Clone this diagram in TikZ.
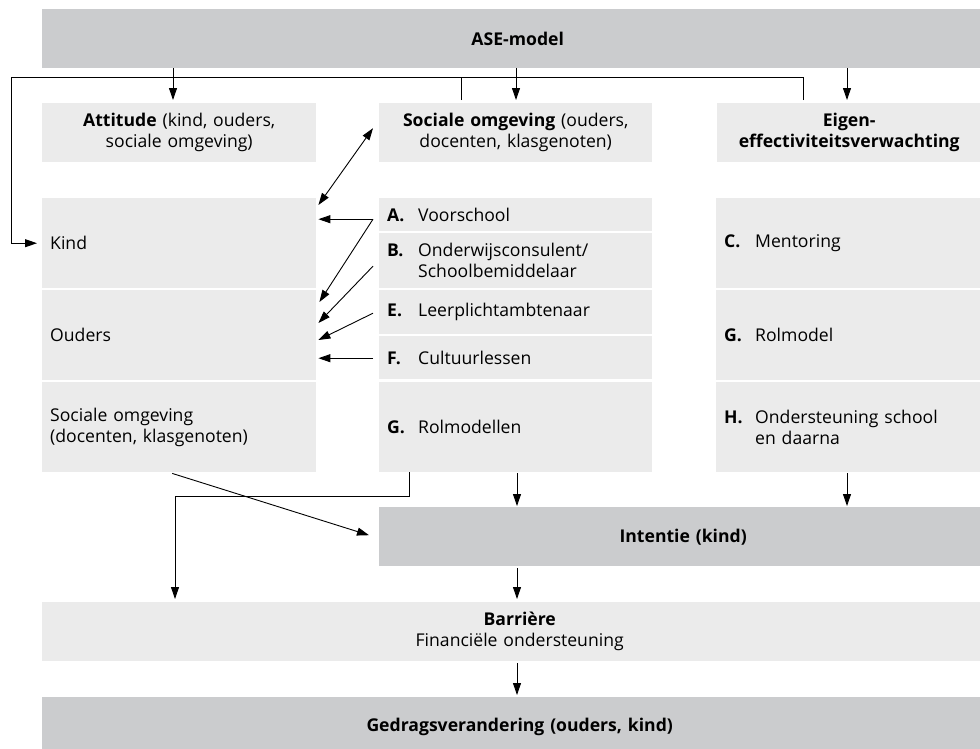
\documentclass[tikz,border=0pt]{standalone}
\usepackage{fontspec}
\setmainfont{Open Sans}
\usetikzlibrary{arrows.meta}
\definecolor{boxdark}{RGB}{203,204,206}
\definecolor{boxlight}{RGB}{235,235,235}
\newcommand\itemlbl[1]{\makebox[31pt][l]{\textbf{#1}}}
\begin{document}
\begin{tikzpicture}[x=1pt,y=-1pt,
  box/.style={inner sep=0pt, anchor=north west, font=\fontsize{17.6}{21}\selectfont},
  dark/.style={box, fill=boxdark},
  light/.style={box, fill=boxlight},
  ctr/.style={align=center},
  lft/.style={align=left, inner xsep=8pt},
  conn/.style={line width=0.9pt, -{Triangle[length=12pt,width=8pt]}},
  both/.style={line width=0.9pt, {Triangle[length=12pt,width=8pt]}-{Triangle[length=12pt,width=8pt]}},
  plain/.style={line width=0.9pt},
]
\useasboundingbox (0,0) rectangle (980,748);
\clip (0,0) rectangle (980,748);

% top row
\node[dark, ctr, minimum width=951pt, minimum height=59pt, text width=951pt] (ase) at (42,9) {\textbf{ASE-model}};
\node[light, ctr, minimum width=274pt, minimum height=59pt, text width=274pt] (att) at (42,103) {\textbf{Attitude} (kind, ouders,\\sociale omgeving)};
\node[light, ctr, minimum width=273pt, minimum height=59pt, text width=273pt] (soc) at (379,103) {\textbf{Sociale omgeving} (ouders,\\docenten, klasgenoten)};
\node[light, ctr, minimum width=264pt, minimum height=59pt, text width=264pt] (eig) at (717,103) {\textbf{Eigen-}\\\textbf{effectiviteitsverwachting}};

% left column
\node[light, lft, minimum width=274pt, minimum height=90pt, text width=258pt] (kind) at (42,198) {Kind};
\node[light, lft, minimum width=274pt, minimum height=90pt, text width=258pt] (ouders) at (42,290) {Ouders};
\node[light, lft, minimum width=274pt, minimum height=90pt, text width=258pt] (somg) at (42,382) {Sociale omgeving\\(docenten, klasgenoten)};

% middle column
\node[light, lft, minimum width=273pt, minimum height=33pt, text width=257pt] (a) at (379,198) {\itemlbl{A.}Voorschool};
\node[light, lft, minimum width=273pt, minimum height=55pt, text width=257pt] (b) at (379,233) {\itemlbl{B.}Onderwijsconsulent/\\\hspace*{31pt}Schoolbemiddelaar};
\node[light, lft, minimum width=273pt, minimum height=44pt, text width=257pt] (e) at (379,290) {\itemlbl{E.}Leerplichtambtenaar};
\node[light, lft, minimum width=273pt, minimum height=43pt, text width=257pt] (f) at (379,336) {\itemlbl{F.}Cultuurlessen};
\node[light, lft, minimum width=273pt, minimum height=90pt, text width=257pt] (g) at (379,382) {\itemlbl{G.}Rolmodellen};

% right column
\node[light, lft, minimum width=270pt, minimum height=90pt, text width=254pt] (c) at (716,198) {\itemlbl{C.}Mentoring};
\node[light, lft, minimum width=270pt, minimum height=90pt, text width=254pt] (g2) at (716,290) {\itemlbl{G.}Rolmodel};
\node[light, lft, minimum width=270pt, minimum height=90pt, text width=254pt] (h) at (716,382) {\itemlbl{H.}Ondersteuning school\\\hspace*{31pt}en daarna};

% lower rows
\node[dark, ctr, minimum width=608pt, minimum height=59pt, text width=608pt] (int) at (379,507) {\textbf{Intentie (kind)}};
\node[light, ctr, minimum width=955pt, minimum height=59pt, text width=955pt] (bar) at (42,602) {\textbf{Barrière}\\Financiële ondersteuning};
\node[dark, ctr, minimum width=955pt, minimum height=60pt, text width=955pt] (ged) at (42,697) {\textbf{Gedragsverandering (ouders, kind)}};

% x positions
\coordinate (xa) at (173,0);
\coordinate (xs) at (516,0);
\coordinate (xe) at (847,0);
\coordinate (xs2) at (461,0);
\coordinate (xe2) at (803,0);
\coordinate (xm) at (517,0);
\coordinate (fbl) at (11,77);

% ASE arrows
\draw[conn, shorten >=3pt] (ase.south -| xa) -- (att.north -| xa);
\draw[conn, shorten >=3pt] (ase.south -| xs) -- (soc.north -| xs);
\draw[conn, shorten >=3pt] (ase.south -| xe) -- (eig.north -| xe);

% feedback line to Kind
\draw[plain] ([yshift=3pt]soc.north -| xs2) -- (fbl -| xs2);
\draw[conn, shorten >=5pt] ([yshift=3pt]eig.north -| xe2) |- (fbl) |- (kind.west);

% double arrow
\draw[both] ([shift={(2,7)}]kind.north east) -- ([shift={(-6,-4.5)}]soc.west);

% middle to left
\coordinate (aS) at ([shift={(-6,4.5)}]a.west);
\coordinate (bS) at ([shift={(-6,5.5)}]b.west);
\coordinate (eS) at ([shift={(-6,1)}]e.west);
\coordinate (fS) at ([shift={(-6,0.5)}]f.west);
\draw[conn, shorten >=2pt] (aS) -- (aS -| kind.east);
\draw[conn] (aS) -- ([shift={(3,12)}]ouders.north east);
\draw[conn] (bS) -- ([shift={(2,33)}]ouders.north east);
\draw[conn] (eS) -- ([shift={(2,50)}]ouders.north east);
\draw[conn, shorten >=2pt] (fS) -- (fS -| ouders.east);

% to intention and barrier
\draw[conn] ([shift={(-7,1)}]somg.south) -- ([shift={(-10,-1.5)}]int.west);
\coordinate (gr) at ([shift={(30,0)}]g.south west);
\coordinate (gl) at (175,496);
\draw[conn, shorten >=3pt] (gr) |- (gl) -- (gl |- bar.north);
\draw[conn, shorten >=1pt] ([yshift=-1pt]g.south -| xm) -- (int.north -| xm);
\draw[conn, shorten >=1pt] ([yshift=-1pt]h.south -| xe) -- (int.north -| xe);
\draw[conn, shorten >=3pt] ([yshift=-2pt]int.south -| xm) -- (bar.north -| xm);
\draw[conn, shorten >=2pt] ([yshift=-2pt]bar.south -| xm) -- (ged.north -| xm);
\end{tikzpicture}
\end{document}
